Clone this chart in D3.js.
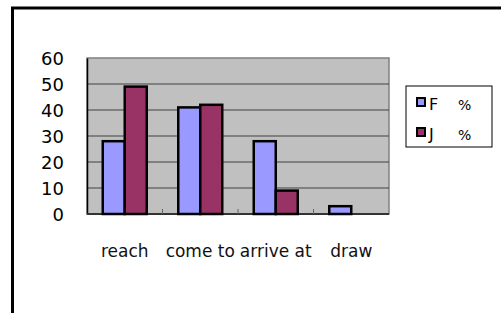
<!DOCTYPE html>
<html>
<head>
<meta charset="utf-8">
<script src="https://cdn.jsdelivr.net/npm/d3@7"></script>
<style>
  body { margin: 0; background: #fff; }
  text { font-family: "DejaVu Sans", sans-serif; }
</style>
</head>
<body>
<svg id="chart" width="501" height="313"></svg>
<script>
// chart data
var categories = ["reach", "come to", "arrive at", "draw"];
var seriesNames = ["F", "J"];
var valuesF = [28, 41, 28, 3];
var valuesJ = [49, 42, 9, 0];
var yTicks = [0, 10, 20, 30, 40, 50, 60];
var colours = ["#9999FF", "#993366"];

var svg = d3.select("#chart");

// outer frame (runs off right and bottom edges)
svg.append("path")
    .attr("d", "M12.5,320 L12.5,8 L520,8")
    .attr("fill", "none")
    .attr("stroke", "#000")
    .attr("stroke-width", 3);

var plot = { left: 87, top: 58, right: 389, bottom: 214 };

var x = d3.scaleBand().domain(categories).range([plot.left, plot.right]);
var y = d3.scaleLinear().domain([0, 60]).range([plot.bottom, plot.top]);
var barW = 22;

// plot background
svg.append("rect")
    .attr("x", plot.left).attr("y", plot.top)
    .attr("width", plot.right - plot.left).attr("height", plot.bottom - plot.top)
    .attr("fill", "#C0C0C0")
    .attr("stroke", "#808080").attr("stroke-width", 1.5);

// gridlines
svg.selectAll(".grid")
    .data(yTicks.filter(function(d) { return d > 0 && d < 60; }))
    .enter().append("line")
    .attr("x1", plot.left).attr("x2", plot.right)
    .attr("y1", function(d) { return y(d); }).attr("y2", function(d) { return y(d); })
    .attr("stroke", "#404040").attr("stroke-width", 1);

// y axis
var yAxis = d3.axisLeft(y).tickValues(yTicks).tickSize(0).tickPadding(23);
var gy = svg.append("g").attr("transform", "translate(" + plot.left + ",0)").call(yAxis);
gy.select(".domain").attr("stroke", "#000").attr("stroke-width", 1.5);
gy.selectAll("text").attr("font-size", 18).attr("fill", "#000").attr("dy", "0.38em")
    .attr("font-family", "'Liberation Sans', Arial, sans-serif");

// x axis line and category ticks
svg.append("line")
    .attr("x1", plot.left).attr("x2", plot.right)
    .attr("y1", plot.bottom).attr("y2", plot.bottom)
    .attr("stroke", "#333").attr("stroke-width", 2);
svg.selectAll(".ctick")
    .data(categories.slice(1))
    .enter().append("line")
    .attr("x1", function(d) { return x(d); }).attr("x2", function(d) { return x(d); })
    .attr("y1", plot.bottom - 5).attr("y2", plot.bottom)
    .attr("stroke", "#666").attr("stroke-width", 1);

// bars
var series = [valuesF, valuesJ];
series.forEach(function(vals, si) {
    svg.selectAll(".bar" + si)
        .data(vals)
        .enter().append("rect")
        .attr("x", function(d, i) { return x(categories[i]) + x.bandwidth() / 2 - barW + si * barW; })
        .attr("y", function(d) { return y(d); })
        .attr("width", barW)
        .attr("height", function(d) { return plot.bottom - y(d); })
        .attr("fill", colours[si])
        .attr("stroke", "#000").attr("stroke-width", 2.5)
        .style("display", function(d) { return d > 0 ? null : "none"; });
});

// category labels
svg.selectAll(".clabel")
    .data(categories)
    .enter().append("text")
    .attr("x", function(d) { return x(d) + x.bandwidth() / 2; })
    .attr("y", 257)
    .attr("text-anchor", "middle")
    .attr("font-size", 17)
    .attr("fill", "#111")
    .text(function(d) { return d; });

// legend
var lg = svg.append("g");
lg.append("rect")
    .attr("x", 406).attr("y", 86).attr("width", 86).attr("height", 61)
    .attr("fill", "#fff").attr("stroke", "#000").attr("stroke-width", 1);
seriesNames.forEach(function(name, i) {
    var yy = 102 + i * 30;
    lg.append("rect")
        .attr("x", 417).attr("y", yy - 4).attr("width", 8).attr("height", 8)
        .attr("fill", colours[i]).attr("stroke", "#000").attr("stroke-width", 2);
    lg.append("text")
        .attr("x", 429).attr("y", yy + 8)
        .attr("font-size", 16)
        .attr("font-family", "'Liberation Sans', Arial, sans-serif")
        .text(name);
    lg.append("text")
        .attr("x", 458).attr("y", yy + 8)
        .attr("font-size", 14)
        .attr("font-family", "'Liberation Sans', Arial, sans-serif")
        .text("%");
});
</script>
</body>
</html>
